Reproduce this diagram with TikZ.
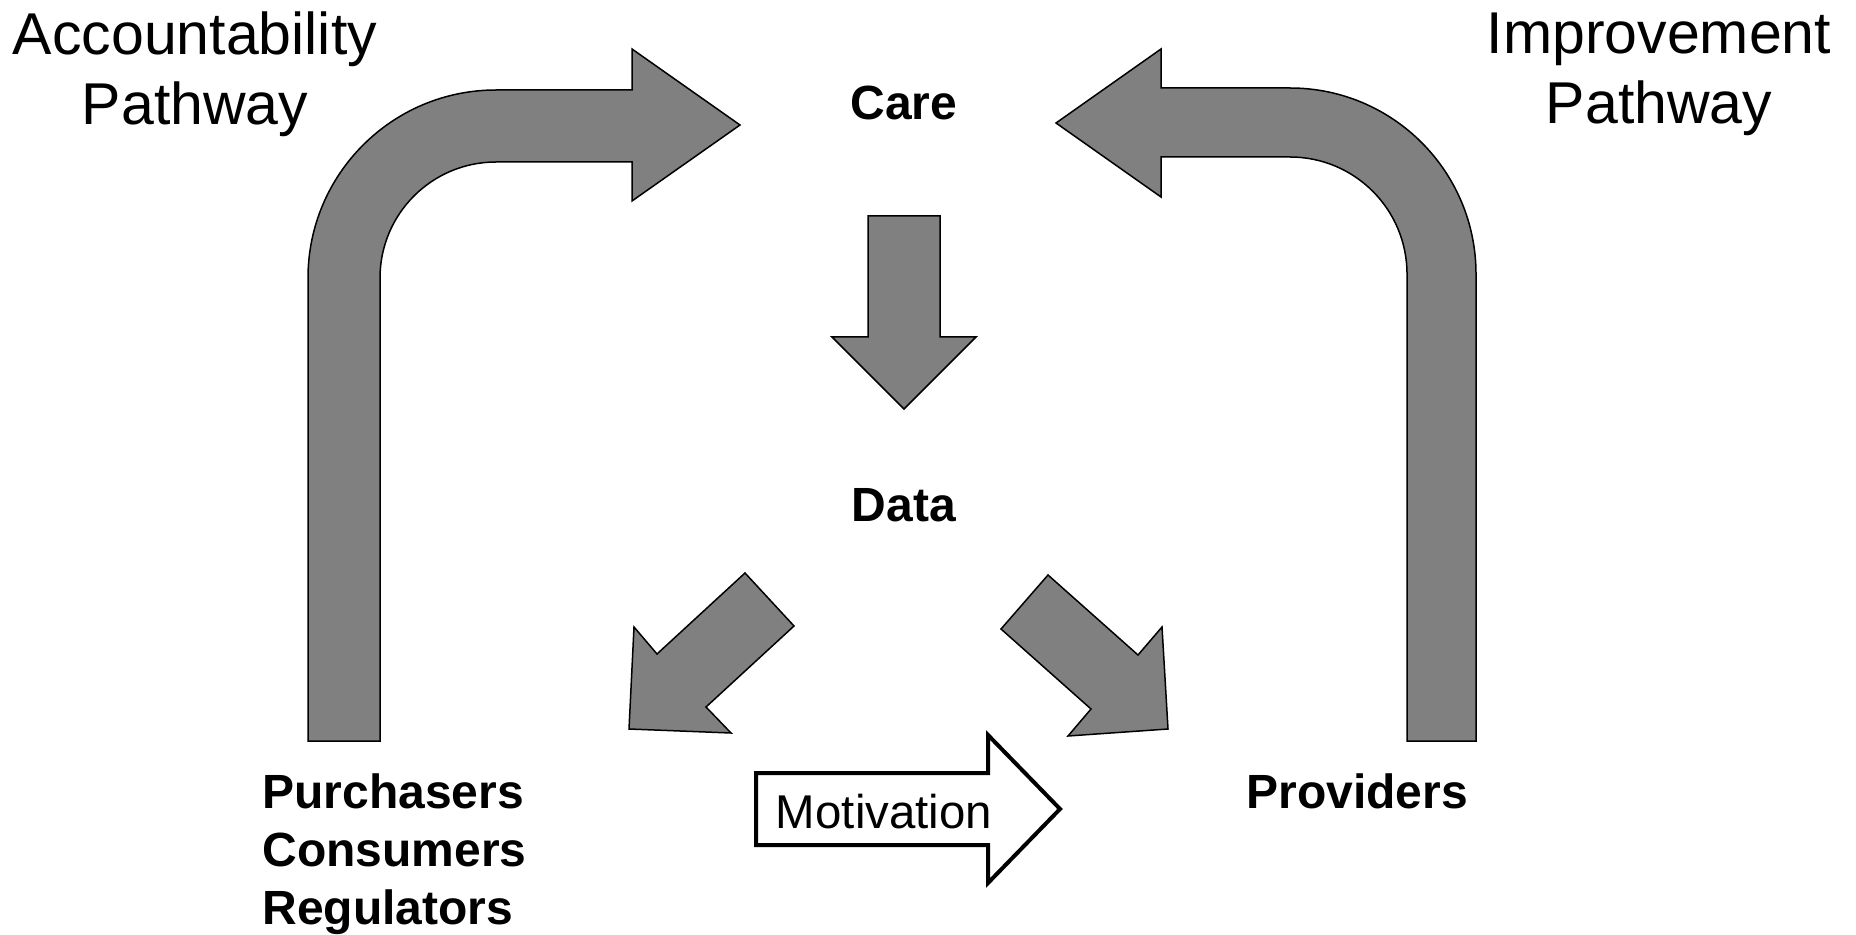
\documentclass[tikz,border=0pt]{standalone}
\usepackage{fontspec}
\setmainfont{Liberation Sans}

\begin{document}
\begin{tikzpicture}[x=0.5pt,y=-0.5pt,
        BlockArrow/.style={draw=black, fill=gray, line width=0.75pt},
        MotivArrow/.style={draw=black, fill=white, line width=2pt},
        Label/.style={font=\fontsize{24}{29}\selectfont\bfseries, inner sep=0pt},
        Pathway/.style={font=\fontsize{29.5}{35}\selectfont, align=center, inner sep=0pt}]
        \useasboundingbox (0,0) rectangle (1856,935);
        % pathway titles
        \node[Pathway] (acct) at (195,74) {Accountability\\Pathway};
        \node[Pathway] (impr) at (1659,74) {Improvement\\Pathway};
        % labels
        \node[Label, anchor=base] (care) at (904,120) {Care};
        \node[Label, anchor=base] (data) at (904,521) {Data};
        \node[Label, anchor=base west, align=left] (buyers) at (262,924) {Purchasers\\Consumers\\Regulators};
        \node[Label, anchor=base west] (providers) at (1246,808) {Providers};
        % bent arrows
        \draw[BlockArrow] (308,741) -- (308,278) arc (180:270:188) -- (632,90)
            -- (632,49) -- (740,125) -- (632,201) -- (632,162) -- (496,162)
            arc (270:180:116) -- (380,741) -- cycle;
        \draw[BlockArrow] (1476,741) -- (1476,274) arc (0:-90:186) -- (1161,88)
            -- (1161,49) -- (1056,123) -- (1161,197) -- (1161,157) -- (1290,157)
            arc (-90:0:117) -- (1407,741) -- cycle;
        % straight arrows
        \draw[BlockArrow] (868,216) -- (940,216) -- (940,337) -- (976,337)
            -- (904,409) -- (832,337) -- (868,337) -- cycle;
        \draw[BlockArrow] (745,573) -- (794,626) -- (706,707) -- (731,733)
            -- (629,729) -- (634,627) -- (657,654) -- cycle;
        \draw[BlockArrow] (1048,575) -- (1138,655) -- (1162,627) -- (1168,729)
            -- (1068,736) -- (1091,709) -- (1001,629) -- cycle;
        % motivation
        \draw[MotivArrow] (756,773) -- (988,773) -- (988,735) -- (1060,809)
            -- (988,883) -- (988,845) -- (756,845) -- cycle;
        \node[inner sep=0pt, anchor=base, font=\fontsize{23.7}{28}\selectfont] (motiv) at (884,828) {Motivation};
\end{tikzpicture}
\end{document}
